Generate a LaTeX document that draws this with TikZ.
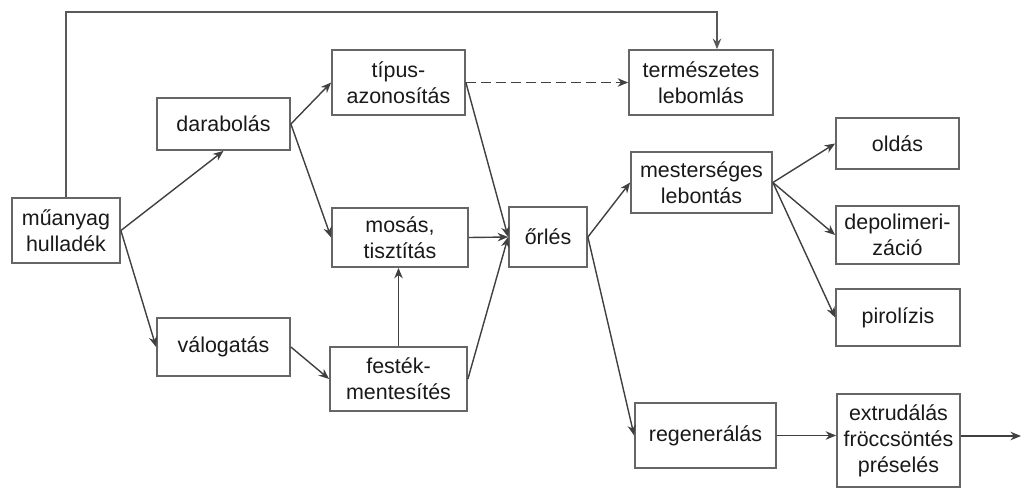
\documentclass[tikz,border=0pt]{standalone}
\usepackage{fontspec}
\setmainfont{Liberation Sans}
\usetikzlibrary{arrows.meta}

\begin{document}
\begin{tikzpicture}[x=0.2mm,y=-0.2mm]

\useasboundingbox (0,0) rectangle (1023,488);

\begin{scope}[every node/.style={rectangle,draw=black!60,line width=1pt,align=center,inner sep=0pt,
              text=black!90,font=\fontsize{12.2}{14.8}\selectfont}]

    \node (mu)  at (66,230.5)   [minimum width=21.6mm, minimum height=13mm]   {műanyag\\hulladék};
    \node (dar) at (223.5,124)  [minimum width=26.6mm, minimum height=10.4mm] {darabolás};
    \node (val) at (223.5,347)  [minimum width=26.6mm, minimum height=11.6mm] {válogatás};

    \node (tip) at (398.5,82.5) [minimum width=26.6mm, minimum height=13mm]   {típus-\\azonosítás};
    \node (mos) at (400,237.5)  [minimum width=27.2mm, minimum height=11.8mm] {mosás,\\tisztítás};
    \node (fes) at (398.5,379)  [minimum width=27.4mm, minimum height=12.8mm] {festék-\\mentesítés};

    \node (orl) at (548,237)    [minimum width=15.6mm, minimum height=12mm]   {őrlés};

    \node (ter) at (701,82.5)   [minimum width=28.8mm, minimum height=13mm]   {természetes\\lebomlás};
    \node (mes) at (701.5,182.5)[minimum width=28.2mm, minimum height=12.2mm] {mesterséges\\lebontás};
    \node (reg) at (705.5,435.5)[minimum width=28.2mm, minimum height=13mm]   {regenerálás};

    \node (old) at (897.5,143.5)[minimum width=24.6mm, minimum height=10.2mm] {oldás};
    \node (dep) at (897.5,235)  [minimum width=24.6mm, minimum height=11.6mm] {depolimeri-\\záció};
    \node (pir) at (898,317.5)  [minimum width=24.8mm, minimum height=11.4mm] {pirolízis};
    \node (ext) at (898.5,440.5)[minimum width=24.6mm, minimum height=18.6mm] {extrudálás\\fröccsöntés\\préselés};
\end{scope}

\coordinate (top) at (717,12);
\coordinate (out) at (1021,436);

\begin{scope}[>={Stealth[length=2.1mm,width=1.7mm]},
              every edge/.style={draw=black!75,line width=0.8pt}
]
    \path [->] (mu.east) edge (dar.south);
    \path [->] (mu.east) edge (val.west);
    \path [->] (dar.east) edge (tip.west);
    \path [->] (dar.east) edge (mos.west);
    \path [->] (val.east) edge (fes.west);
    \path [->] (tip.east) edge [dashed, dash pattern=on 2mm off 1mm] (ter.west);
    \path [->] (tip.east) edge (orl.west);
    \path [->] (mos.east) edge (orl.west);
    \path [->] (fes.east) edge (orl.west);
    \path [->] (fes.north) edge (fes.north |- mos.south);
    \path [->] (orl.east) edge (mes.west);
    \path [->] (orl.east) edge (reg.west);
    \path [->] (mes.east) edge (old.west);
    \path [->] (mes.east) edge (dep.west);
    \path [->] (mes.east) edge (pir.west);
    \path [->] (reg.east) edge (reg.east -| ext.west);
    \path [->] (ext.east |- out) edge (out);

    % visszacsatolas a felso vonalon
    \draw [->, draw=black!65, line width=1pt] (mu.north) |- (top) -- (top |- ter.north);
\end{scope}

\end{tikzpicture}
\end{document}
